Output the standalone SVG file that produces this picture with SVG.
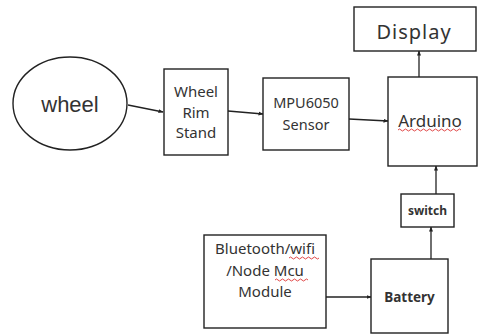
<svg xmlns="http://www.w3.org/2000/svg" width="478" height="334" viewBox="0 0 478 334">
<style>
.box{fill:#fff;stroke:#222;stroke-width:1.4}
.t{font-family:"Noto Sans",sans-serif;fill:#333;text-anchor:middle}
.b{font-weight:bold}
.c{stroke:#222;stroke-width:1.3;fill:none;marker-end:url(#ah)}
.sq{stroke:#d33;stroke-width:0.9;fill:none}
</style>
<defs>
<marker id="ah" viewBox="0 0 10 10" refX="9" refY="5" markerWidth="5" markerHeight="5" orient="auto" markerUnits="userSpaceOnUse">
<path d="M0,1 L10,5 L0,9 z" fill="#222"/>
</marker>
</defs>
<rect width="478" height="334" fill="#fff"/>
<g id="connectors">
<line class="c" x1="128" y1="105" x2="163" y2="112"/>
<line class="c" x1="228" y1="111" x2="263" y2="114"/>
<line class="c" x1="349" y1="119" x2="388" y2="121"/>
<line class="c" x1="419" y1="77" x2="419" y2="51"/>
<line class="c" x1="436" y1="194" x2="436" y2="166"/>
<line class="c" x1="431" y1="259" x2="431" y2="227"/>
<line class="c" x1="326" y1="297" x2="371" y2="297"/>
</g>
<g id="wheel">
<ellipse cx="70" cy="103.5" rx="57" ry="46.5" fill="#fff" stroke="#222" stroke-width="1.4"/>
<text x="70" y="112" style="font-family:'Liberation Sans',Arial,sans-serif;font-size:22px;fill:#333;text-anchor:middle">wheel</text>
</g>
<g id="rim">
<rect class="box" x="164" y="69" width="64" height="86"/>
<text class="t" x="196" y="97" font-size="15">Wheel</text>
<text class="t" x="196" y="118" font-size="15">Rim</text>
<text class="t" x="196" y="138" font-size="15">Stand</text>
</g>
<g id="mpu">
<rect class="box" x="263" y="78" width="86" height="72"/>
<text class="t" x="306" y="108" font-size="14.5">MPU6050</text>
<text class="t" x="306" y="130" font-size="14.5">Sensor</text>
</g>
<g id="display">
<rect class="box" x="354" y="7" width="122" height="44"/>
<text class="t" x="414" y="39" font-size="20" letter-spacing="1">Display</text>
</g>
<g id="arduino">
<rect class="box" x="388" y="77" width="89" height="89"/>
<text class="t" x="430" y="127" font-size="17">Arduino</text>
<path class="sq" d="M398,130 q1.5,-2 3,0 t3,0 t3,0 t3,0 t3,0 t3,0 t3,0 t3,0 t3,0 t3,0 t3,0 t3,0 t3,0 t3,0 t3,0 t3,0 t3,0 t3,0 t3,0 t3,0 t3,0"/>
</g>
<g id="switch">
<rect class="box" x="401" y="194" width="53" height="33"/>
<text class="t b" x="427.5" y="215" font-size="12">switch</text>
</g>
<g id="battery">
<rect class="box" x="371" y="259" width="77" height="74"/>
<text class="t b" x="409.5" y="302" font-size="13.5">Battery</text>
</g>
<g id="bluetooth">
<rect class="box" x="204" y="235" width="122" height="93"/>
<text class="t" x="265" y="254" font-size="15">Bluetooth/wifi</text>
<text class="t" x="265" y="276" font-size="15">/Node Mcu</text>
<text class="t" x="265" y="297" font-size="15">Module</text>
<path class="sq" d="M289,258 q1.5,-2 3,0 t3,0 t3,0 t3,0 t3,0 t3,0 t3,0 t3,0 t3,0 t3,0"/>
<path class="sq" d="M275,280 q1.5,-2 3,0 t3,0 t3,0 t3,0 t3,0 t3,0 t3,0 t3,0 t3,0 t3,0 t3,0"/>
</g>
</svg>
